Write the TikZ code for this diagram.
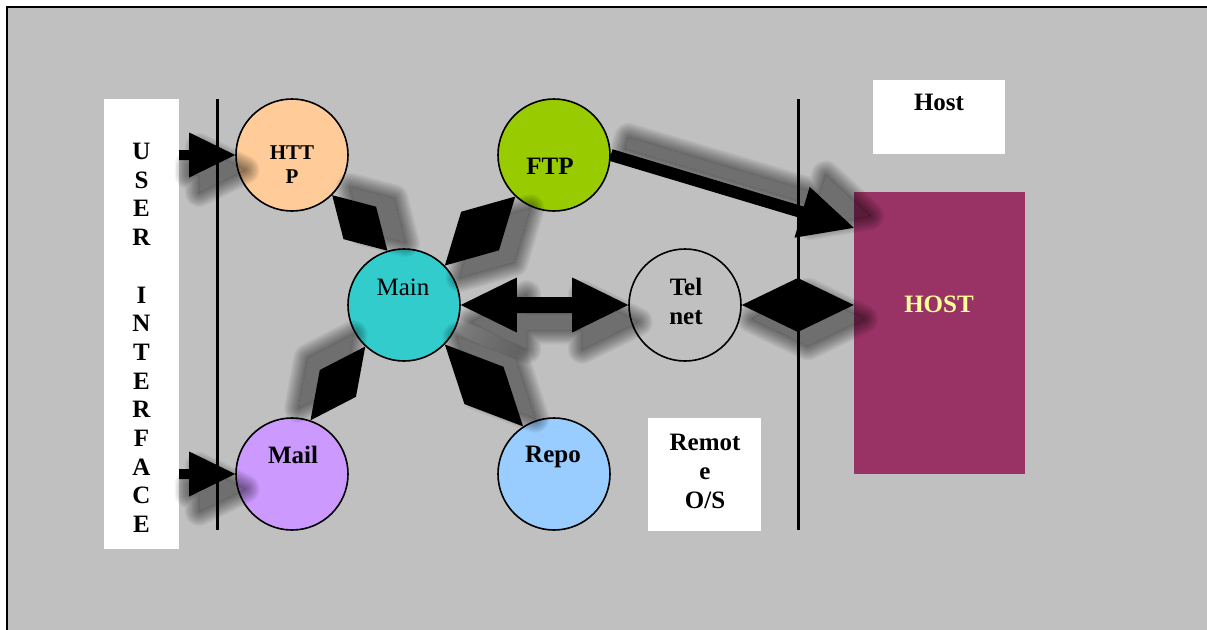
\documentclass[tikz,border=0pt]{standalone}
\usepackage{fontspec}
\setmainfont{Liberation Serif}
\usetikzlibrary{calc}
\definecolor{bg}{HTML}{C0C0C0}
\definecolor{peach}{HTML}{FFCC99}
\definecolor{lime}{HTML}{99CC00}
\definecolor{teal}{HTML}{33CCCC}
\definecolor{lilac}{HTML}{CC99FF}
\definecolor{sky}{HTML}{99CCFF}
\definecolor{plum}{HTML}{993366}
\definecolor{paleyellow}{HTML}{FFFF99}
\tikzset{
  ball/.style={circle, draw=black, line width=1.6pt, minimum size=112pt, inner sep=0pt},
  lbl/.style={font=\fontsize{25}{29}\selectfont\bfseries, align=center, inner sep=0pt, anchor=north},
  wbox/.style={fill=white, draw=none, inner sep=0pt},
  sepline/.style={line width=3pt},
  conn/.style={fill=black},
}
% block arrow path: #1 tail, #2 tip, #3 shaft half width, #4 head length, #5 head half width
\newcommand\arrowpath[5]{($(#1)!#3!90:(#2)$) -- ($(#2)!#4!(#1)!#3!-90:(#1)$) -- ($(#2)!#4!(#1)!#5!-90:(#1)$) -- (#2)
    -- ($(#2)!#4!(#1)!#5!90:(#1)$) -- ($(#2)!#4!(#1)!#3!90:(#1)$) -- ($(#1)!#3!-90:(#2)$) -- cycle}
% double block arrow path between tips #1 and #2
\newcommand\darrowpath[5]{(#1) -- ($(#1)!#4!(#2)!#5!90:(#2)$) -- ($(#1)!#4!(#2)!#3!90:(#2)$)
    -- ($(#2)!#4!(#1)!#3!-90:(#1)$) -- ($(#2)!#4!(#1)!#5!-90:(#1)$) -- (#2)
    -- ($(#2)!#4!(#1)!#5!90:(#1)$) -- ($(#2)!#4!(#1)!#3!90:(#1)$)
    -- ($(#1)!#4!(#2)!#3!-90:(#2)$) -- ($(#1)!#4!(#2)!#5!-90:(#2)$) -- cycle}
% diamond path between #1 and #2 with half width #3
\newcommand\diampath[3]{(#1) -- ($(#1)!0.5!(#2)!#3!90:(#2)$) -- (#2) -- ($(#1)!0.5!(#2)!#3!-90:(#2)$) -- cycle}
% soft shadow of a path, shifted by (#1pt,#2pt) on the canvas
\newcommand\softshadow[3]{%
  \begin{scope}[transform canvas={xshift=#1pt, yshift=#2pt}]
    \begin{scope}[even odd rule]
      \clip (-600,-600) rectangle (2000,1500) #3;
      \foreach \k in {1,...,12}{%
        \pgfmathsetmacro\shlw{\k*2.4}%
        \draw[black, opacity=0.045, line width=\shlw pt, line join=round] #3;}
    \end{scope}
    \fill[black, opacity=0.42] #3;
  \end{scope}}

\begin{document}
\begin{tikzpicture}[x=1pt,y=-1pt]
\useasboundingbox (0,0) rectangle (1207,629);
\fill[white] (0,0) rectangle (1207,629);
\draw[fill=bg, line width=1.5pt] (7,7) rectangle (1220,640);

% white label boxes
\node[wbox, minimum width=75pt, minimum height=450pt] (ui) at (141.5,324) {};
\node[lbl, font=\fontsize{25}{28.7}\selectfont\bfseries] (uitxt) at (141.5,143) {U\\S\\E\\R\\~\\I\\N\\T\\E\\R\\F\\A\\C\\E};
\node[wbox, minimum width=132pt, minimum height=74pt] (hostlbl) at (939,117) {};
\node[lbl] (hostlbltxt) at (939,94) {Host};
\node[wbox, minimum width=113pt, minimum height=113pt] (remote) at (704.5,474.5) {};
\node[lbl] (remotetxt) at (705,434) {Remot\\e\\O/S};

% separator lines
\coordinate (l1t) at (217,99); \coordinate (l1b) at (217,530);
\coordinate (l2t) at (798,99); \coordinate (l2b) at (798,530);
\draw[sepline] (l1t) -- (l1b);
\draw[sepline] (l2t) -- (l2b);

% HOST
\node[fill=plum, minimum width=171pt, minimum height=282pt, inner sep=0pt] (hostbox) at (939.5,333) {};
\node[lbl, text=paleyellow] (hosttxt) at (939,296) {HOST};

% circles
\node[ball, fill=peach] (http) at (292,155) {};
\node[lbl, font=\fontsize{21}{24}\selectfont\bfseries] (httptxt) at (292,146) {HTT\\P};
\node[ball, fill=lime] (ftp) at (554,155) {};
\node[lbl] (ftptxt) at (550,158) {FTP};
\node[ball, fill=teal] (main) at (404,305) {};
\node[lbl, font=\fontsize{25}{29}\selectfont] (maintxt) at (403,279) {Main};
\node[ball, fill=bg] (telnet) at (685,305) {};
\node[lbl] (telnettxt) at (686,278) {Tel\\net};
\node[ball, fill=lilac] (mail) at (292,474) {};
\node[lbl] (mailtxt) at (293,446) {Mail};
\node[ball, fill=sky] (repo) at (554,474) {};
\node[lbl] (repotxt) at (553,446) {Repo};

% connector end points
\coordinate (uia) at (ui.east |- http);
\coordinate (uib) at (ui.east |- mail);
\coordinate (htl) at (hostbox.west |- telnet);
\coordinate (hta) at ($(hostbox.north west)+(0,36)$);

% shadows
\softshadow{10}{-15}{\arrowpath{uia}{http.west}{5pt}{46pt}{22.5pt}}
\softshadow{10}{-15}{\arrowpath{uib}{mail.west}{5pt}{46pt}{22.5pt}}
\softshadow{10}{-17}{\darrowpath{main.east}{telnet.west}{8pt}{56pt}{27.5pt}}
\softshadow{10}{-14}{\diampath{telnet.east}{htl}{27pt}}
\softshadow{16}{12}{\arrowpath{ftp.east}{hta}{6pt}{54pt}{26.5pt}}
\softshadow{18}{8}{\diampath{http.-45}{main.107}{23pt}}
\softshadow{15}{-12}{\diampath{main.44}{ftp.-133}{27pt}}
\softshadow{-12}{12}{\diampath{main.-133}{mail.71}{22.5pt}}
\softshadow{12}{8}{\diampath{main.-44}{repo.123}{27pt}}

% connectors
\fill[conn] \arrowpath{uia}{http.west}{5pt}{46pt}{22.5pt};
\fill[conn] \arrowpath{uib}{mail.west}{5pt}{46pt}{22.5pt};
\fill[conn] \darrowpath{main.east}{telnet.west}{8pt}{56pt}{27.5pt};
\fill[conn] \diampath{telnet.east}{htl}{27pt};
\fill[conn] \arrowpath{ftp.east}{hta}{6pt}{54pt}{26.5pt};
\fill[conn] \diampath{http.-45}{main.107}{23pt};
\fill[conn] \diampath{main.44}{ftp.-133}{27pt};
\fill[conn] \diampath{main.-133}{mail.71}{22.5pt};
\fill[conn] \diampath{main.-44}{repo.123}{27pt};
\end{tikzpicture}
\end{document}
